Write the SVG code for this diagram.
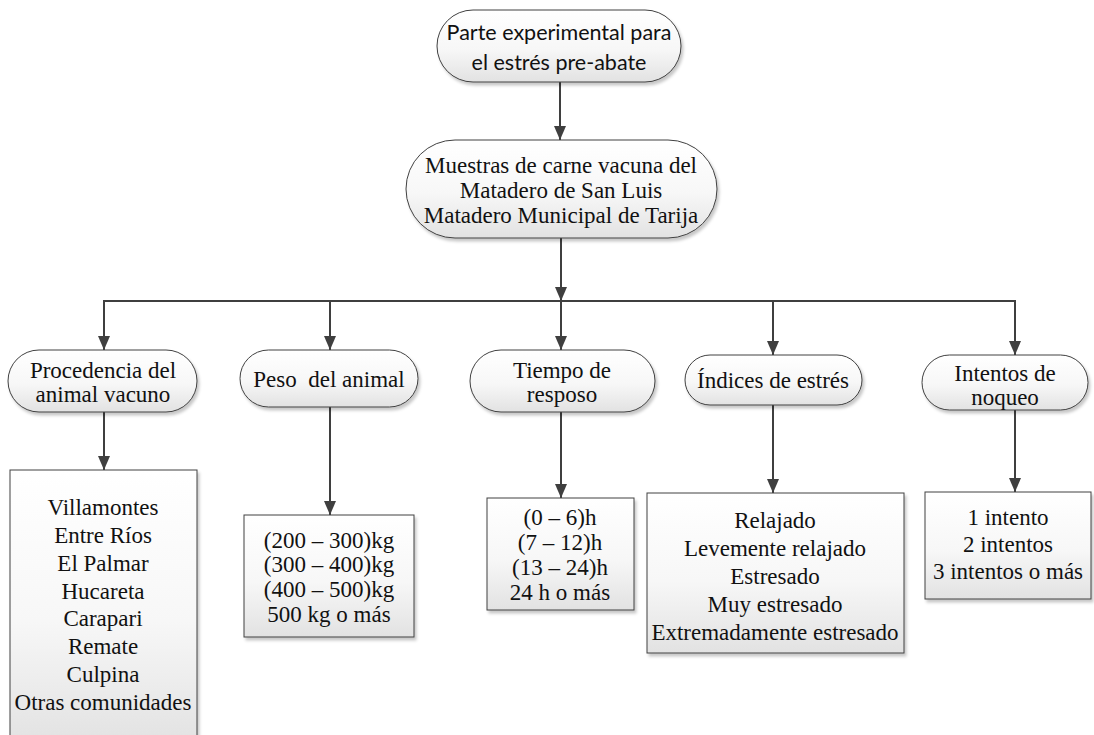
<svg xmlns="http://www.w3.org/2000/svg" width="1094" height="735" viewBox="0 0 1094 735">
  <defs>
    <linearGradient id="fill" x1="0" y1="0" x2="0" y2="1">
      <stop offset="0" stop-color="#ffffff"/>
      <stop offset="0.55" stop-color="#f7f7f7"/>
      <stop offset="1" stop-color="#e2e2e2"/>
    </linearGradient>
    <filter id="shadow" x="-10%" y="-10%" width="125%" height="130%">
      <feDropShadow dx="2" dy="3" stdDeviation="1.5" flood-color="#000" flood-opacity="0.22"/>
    </filter>
    <marker id="tip" viewBox="0 0 14 12" refX="14" refY="6" markerWidth="14" markerHeight="12" markerUnits="userSpaceOnUse" orient="auto">
      <path d="M0,0 L14,6 L0,12 Z" fill="#3f3f3f"/>
    </marker>
  </defs>
  <style>
    .shape { fill: url(#fill); stroke: #404040; stroke-width: 1; filter: url(#shadow); }
    .conn { fill: none; stroke: #3f3f3f; stroke-width: 2; }
    .arr { marker-end: url(#tip); }
    .serif { font-family: "Liberation Serif", "Times New Roman", serif; font-size: 23px; fill: #111; text-anchor: middle; }
    .sans { font-family: Lato, "Open Sans", sans-serif; font-size: 21.5px; fill: #111; text-anchor: middle; }
  </style>

  <rect width="1094" height="735" fill="#ffffff"/>

  <!-- connectors -->
  <g id="connectors">
    <line class="conn arr" x1="560" y1="82" x2="560" y2="140"/>
    <line class="conn arr" x1="561" y1="238" x2="561" y2="301"/>
    <polyline class="conn" points="104,301 1015,301"/>
    <line class="conn arr" x1="104" y1="300" x2="104" y2="350"/>
    <line class="conn arr" x1="330" y1="301" x2="330" y2="350"/>
    <line class="conn arr" x1="561" y1="301" x2="561" y2="350"/>
    <line class="conn arr" x1="773" y1="301" x2="773" y2="355"/>
    <line class="conn arr" x1="1015" y1="300" x2="1015" y2="355"/>
    <line class="conn arr" x1="104" y1="412" x2="104" y2="470"/>
    <line class="conn arr" x1="330" y1="407" x2="330" y2="515"/>
    <line class="conn arr" x1="561" y1="412" x2="561" y2="498"/>
    <line class="conn arr" x1="773" y1="405" x2="773" y2="493"/>
    <line class="conn arr" x1="1015" y1="410" x2="1015" y2="492"/>
  </g>

  <!-- top level -->
  <g id="node-parte">
    <rect class="shape" x="437" y="10" width="244" height="72" rx="36" ry="36"/>
    <text class="sans" x="559" y="40">Parte experimental para</text>
    <text class="sans" x="559" y="70">el estrés pre-abate</text>
  </g>

  <g id="node-muestras">
    <rect class="shape" x="406" y="140" width="311" height="98" rx="49" ry="49"/>
    <text class="serif" x="561" y="173">Muestras de carne vacuna del</text>
    <text class="serif" x="561" y="198">Matadero de San Luis</text>
    <text class="serif" x="561" y="223">Matadero Municipal de Tarija</text>
  </g>

  <!-- second level -->
  <g id="node-procedencia">
    <rect class="shape" x="8" y="350" width="189" height="62" rx="31" ry="31"/>
    <text class="serif" x="103" y="378">Procedencia del</text>
    <text class="serif" x="103" y="402">animal vacuno</text>
  </g>

  <g id="node-peso">
    <rect class="shape" x="240" y="350" width="178" height="57" rx="28.5" ry="28.5"/>
    <text class="serif" x="329" y="387" xml:space="preserve">Peso  del animal</text>
  </g>

  <g id="node-tiempo">
    <rect class="shape" x="470" y="350" width="185" height="62" rx="31" ry="31"/>
    <text class="serif" x="562" y="378">Tiempo de</text>
    <text class="serif" x="562" y="402">resposo</text>
  </g>

  <g id="node-indices">
    <rect class="shape" x="685" y="355" width="177" height="50" rx="25" ry="25"/>
    <text class="serif" x="773" y="388">Índices de estrés</text>
  </g>

  <g id="node-intentos">
    <rect class="shape" x="922" y="355" width="166" height="55" rx="27.5" ry="27.5"/>
    <text class="serif" x="1005" y="381">Intentos de</text>
    <text class="serif" x="1005" y="405">noqueo</text>
  </g>

  <!-- detail boxes -->
  <g id="box-procedencia">
    <rect class="shape" x="10" y="470" width="187" height="275"/>
    <text class="serif" x="103" y="515">Villamontes</text>
    <text class="serif" x="103" y="543">Entre Ríos</text>
    <text class="serif" x="103" y="571">El Palmar</text>
    <text class="serif" x="103" y="599">Hucareta</text>
    <text class="serif" x="103" y="626">Carapari</text>
    <text class="serif" x="103" y="654">Remate</text>
    <text class="serif" x="103" y="682">Culpina</text>
    <text class="serif" x="103" y="710">Otras comunidades</text>
  </g>

  <g id="box-peso">
    <rect class="shape" x="244" y="515" width="170" height="122"/>
    <text class="serif" x="329" y="548">(200 – 300)kg</text>
    <text class="serif" x="329" y="572">(300 – 400)kg</text>
    <text class="serif" x="329" y="597">(400 – 500)kg</text>
    <text class="serif" x="329" y="622">500 kg o más</text>
  </g>

  <g id="box-tiempo">
    <rect class="shape" x="487" y="498" width="147" height="112"/>
    <text class="serif" x="560" y="525">(0 – 6)h</text>
    <text class="serif" x="560" y="550">(7 – 12)h</text>
    <text class="serif" x="560" y="575">(13 – 24)h</text>
    <text class="serif" x="560" y="600">24 h o más</text>
  </g>

  <g id="box-indices">
    <rect class="shape" x="647" y="493" width="257" height="160"/>
    <text class="serif" x="775" y="528">Relajado</text>
    <text class="serif" x="775" y="556">Levemente relajado</text>
    <text class="serif" x="775" y="584">Estresado</text>
    <text class="serif" x="775" y="612">Muy estresado</text>
    <text class="serif" x="775" y="640">Extremadamente estresado</text>
  </g>

  <g id="box-intentos">
    <rect class="shape" x="925" y="492" width="166" height="107"/>
    <text class="serif" x="1008" y="525">1 intento</text>
    <text class="serif" x="1008" y="552">2 intentos</text>
    <text class="serif" x="1008" y="579">3 intentos o más</text>
  </g>
</svg>
